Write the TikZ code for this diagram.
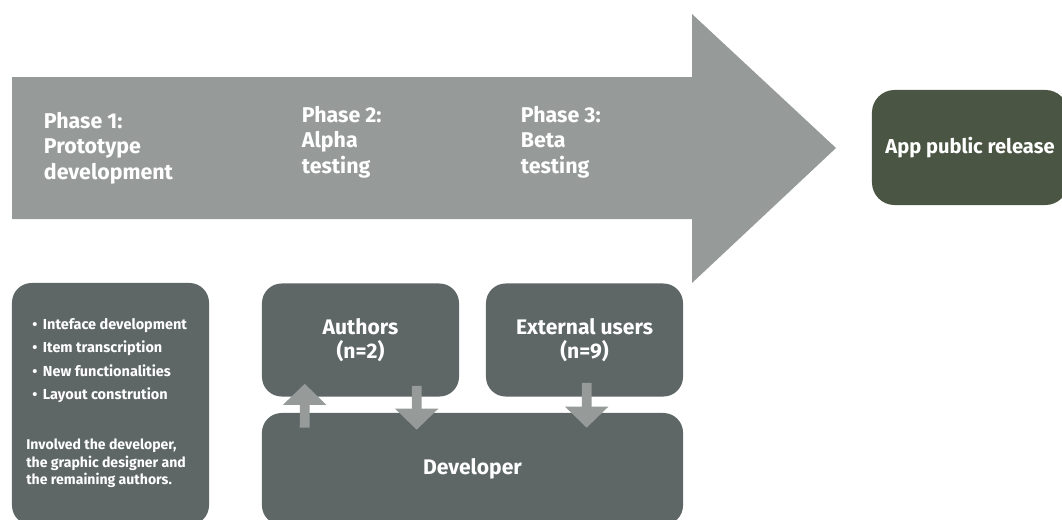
\documentclass[tikz,border=0pt]{standalone}
\usepackage{fontspec}
\setmainfont{Fira Sans}
\usepackage{tikz}
\usetikzlibrary{positioning, calc, arrows.meta}
\definecolor{arrowgray}{HTML}{969B9A}
\definecolor{boxgray}{HTML}{5E6766}
\definecolor{relgreen}{HTML}{4B5543}

\begin{document}
\begin{tikzpicture}[
    x=0.025cm, y=-0.025cm,
    box/.style={
        rectangle,
        rounded corners=14pt,
        fill=boxgray,
        text=white,
        font=\bfseries\fontsize{15}{17.5}\selectfont,
        align=center,
        inner sep=0pt,
    },
    phase/.style={
        anchor=west,
        align=left,
        text=white,
        font=\bfseries\fontsize{15.2}{18.2}\selectfont,
    },
    small/.style={
        anchor=west,
        align=left,
        text=white,
        inner sep=0pt,
    },
    flow/.style={-{Triangle[width=30pt, length=15pt]}, line width=7pt, color=arrowgray}
]
\useasboundingbox (0,0) rectangle (1062,519);
\clip (0,0) rectangle (1062,519);

\fill[arrowgray] (12,77) -- (692,77) -- (692,14) -- (836,148)
    -- (692,283) -- (692,219) -- (12,219) -- cycle;

\node[phase] (Ph1) at (39,148) {Phase 1:\\Prototype\\development};
\node[phase] (Ph2) at (297,142) {Phase 2:\\Alpha\\testing};
\node[phase] (Ph3) at (516,142) {Phase 3:\\Beta\\testing};

\node[box, fill=relgreen, rounded corners=16pt, minimum width=4.9cm, minimum height=2.875cm,
    font=\bfseries\fontsize{14.3}{17}\selectfont]
    (Rel) at (970,147.5) {App public release};

\node[box, minimum width=4.925cm, minimum height=6.05cm] (Proto) at (110.5,404) {};
\node[small, font=\bfseries\fontsize{10.3}{16.7}\selectfont] (Tasks) at (32,360.5) {%
  \textbullet\hspace{4pt}Inteface development\\
  \textbullet\hspace{4pt}Item transcription\\
  \textbullet\hspace{4pt}New functionalities\\
  \textbullet\hspace{4pt}Layout constrution%
};
\node[small, font=\bfseries\fontsize{10}{12.4}\selectfont] (Who) at (26,463.5) {%
  Involved the developer,\\
  the graphic designer and\\
  the remaining authors.%
};

\node[box, minimum width=4.925cm, minimum height=2.825cm] (Auth) at (360.5,340) {Authors\\(n=2)};
\node[box, minimum width=4.925cm, minimum height=2.825cm] (Ext) at (584.5,340) {External users\\(n=9)};
\node[box, minimum width=10.525cm, minimum height=2.8cm] (Dev) at (472.5,469) {Developer};

\draw[flow] ($(Dev.north west)+(43,15)$) -- ($(Auth.south west)+(43,-13)$);
\draw[flow] ($(Auth.south west)+(155,-11)$) -- ($(Dev.north west)+(155,17)$);
\draw[flow] ($(Ext.south west)+(101,-14)$) -- ($(Dev.north west)+(325,15)$);
\end{tikzpicture}
\end{document}
